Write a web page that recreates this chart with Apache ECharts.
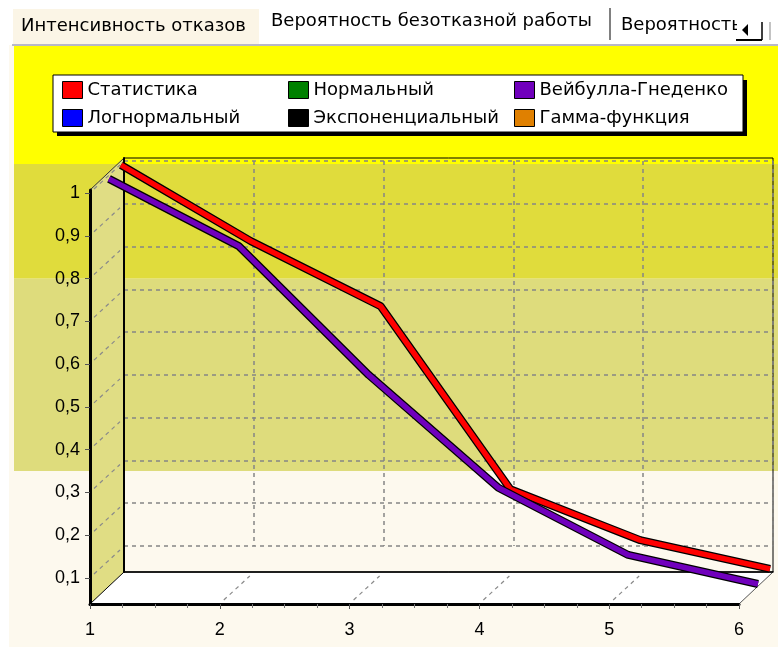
<!DOCTYPE html>
<html>
<head>
<meta charset="utf-8">
<script src="https://cdn.jsdelivr.net/npm/echarts@6/dist/echarts.min.js"></script>
<style>
html, body { margin: 0; padding: 0; background: #ffffff; }
#chart { width: 778px; height: 647px; }
</style>
</head>
<body>
<div id="chart"></div>
<script>
// данные графика
var xValues = [1, 2, 3, 4, 5, 6];
var statValues = [1.0, 0.822, 0.670, 0.242, 0.123, 0.056];
var weibullValues = [0.992, 0.835, 0.534, 0.270, 0.113, 0.045];
var seriesNames = ['Статистика', 'Нормальный', 'Вейбулла-Гнеденко', 'Логнормальный', 'Экспоненциальный', 'Гамма-функция'];
var seriesColors = ['#ff0000', '#008000', '#7000bc', '#0000ff', '#000000', '#e08000'];
var yTicks = [0.1, 0.2, 0.3, 0.4, 0.5, 0.6, 0.7, 0.8, 0.9, 1.0];
var bandEdges = [0.35, 0.8, 1.068];
var bandColors = ['#dedc7c', '#e0dc3c'];
var tabLabels = ['Интенсивность отказов', 'Вероятность безотказной работы', 'Вероятность'];

// геометрия 3D-рамки
var FX = 90, FY = 193, PW = 649, PH = 385, FLOOR = 604;
var DX = 34, DY = -32;
var statDepth = [31, -28], weibullDepth = [19, -17.5];
var FONT = 'DejaVu Sans', NUMFONT = 'Liberation Sans';

function yAt(v) { return FY + (1 - v) / 0.9 * PH; }
function plotGrid(dx, dy) { return { left: FX + dx, top: FY + dy, width: PW, height: PH }; }
function pairs(vals) { return xValues.map(function (x, i) { return [x, vals[i]]; }); }

var chart = echarts.init(document.getElementById('chart'));

var bandTop = yAt(bandEdges[2]), bandBottom = yAt(bandEdges[0]);

var grids = [
    { left: 14, right: 0, top: bandTop, height: bandBottom - bandTop },        // 0 полосы
    plotGrid(DX, DY),                                                          // 1 сетка задней стенки
    { left: FX + DX, top: 158, width: PW, height: FLOOR + DY - 158,            // 2 рамка задней стенки
      show: true, borderColor: '#000', borderWidth: 1, z: 3 },
    plotGrid(statDepth[0], statDepth[1]),                                      // 3 статистика
    plotGrid(weibullDepth[0], weibullDepth[1]),                                // 4 вейбулл
    { left: FX, top: 190, width: PW, height: FLOOR - 190 },                    // 5 передние оси
    plotGrid(0, 0)                                                             // 6 подписи Y
];

var hidden = { show: false };
var dashed = { show: true, lineStyle: { color: '#858585', type: [4, 4], width: 1.5 } };

var xAxes = [
    { gridIndex: 0, type: 'value', min: 0, max: 1, show: false },
    { gridIndex: 1, type: 'value', min: 1, max: 6, interval: 1, axisLine: hidden, axisTick: hidden, axisLabel: hidden, splitLine: dashed, z: 3 },
    { gridIndex: 2, type: 'value', min: 0, max: 1, axisLine: { lineStyle: { color: '#000', width: 1.5 } }, axisTick: hidden, axisLabel: hidden, splitLine: hidden, z: 3 },
    { gridIndex: 3, type: 'value', min: 1, max: 6, show: false },
    { gridIndex: 4, type: 'value', min: 1, max: 6, show: false },
    { gridIndex: 5, type: 'value', min: 1, max: 6, interval: 1, z: 8,
      axisLine: { lineStyle: { color: '#000', width: 3 } },
      axisTick: { length: 5, lineStyle: { color: '#555' } },
      minorTick: { show: true, splitNumber: 4, length: 4, lineStyle: { color: '#777' } },
      axisLabel: { color: '#000', fontSize: 18, fontFamily: NUMFONT, margin: 17 },
      splitLine: hidden },
    { gridIndex: 6, type: 'value', min: 1, max: 6, show: false }
];

var yAxes = [
    { gridIndex: 0, type: 'value', min: bandEdges[0], max: bandEdges[2], show: false },
    { gridIndex: 1, type: 'value', min: 0.1, max: 1, interval: 0.1, axisLine: hidden, axisTick: hidden, axisLabel: hidden, splitLine: dashed, z: 3 },
    { gridIndex: 2, type: 'value', min: 0, max: 1, axisLine: { show: true, lineStyle: { color: '#000', width: 2 } }, axisTick: hidden, axisLabel: hidden, splitLine: hidden, z: 3 },
    { gridIndex: 3, type: 'value', min: 0.1, max: 1, show: false },
    { gridIndex: 4, type: 'value', min: 0.1, max: 1, show: false },
    { gridIndex: 5, type: 'value', min: 0, max: 1, z: 8, axisLine: { show: true, lineStyle: { color: '#000', width: 3 } }, axisTick: hidden, axisLabel: hidden, splitLine: hidden },
    { gridIndex: 6, type: 'value', min: 0.1, max: 1, interval: 0.1, z: 8, axisLine: hidden,
      axisTick: { show: true, length: 5, lineStyle: { color: '#555' } },
      axisLabel: { color: '#000', fontSize: 18, fontFamily: NUMFONT, margin: 10,
        formatter: function (v) { var r = Math.round(v * 10) / 10; return r === 1 ? '1' : r.toFixed(1).replace('.', ','); } },
      splitLine: hidden }
];

var series = [
    { type: 'custom', name: 'bands', xAxisIndex: 0, yAxisIndex: 0, z: 1, silent: true,
      data: [[bandEdges[0], bandEdges[1], 0], [bandEdges[1], bandEdges[2], 1]],
      renderItem: function (params, api) {
          var cs = params.coordSys;
          var yHi = api.coord([0, api.value(1)])[1];
          var yLo = api.coord([0, api.value(0)])[1];
          return { type: 'rect', shape: { x: cs.x, y: yHi, width: cs.width, height: yLo - yHi },
                   style: { fill: bandColors[api.value(2)] } };
      } },
    { type: 'line', name: 'stat-edge', xAxisIndex: 3, yAxisIndex: 3, data: pairs(statValues), showSymbol: false, clip: false, silent: true, z: 4,
      lineStyle: { color: '#000', width: 8 }, color: '#000' },
    { type: 'line', name: seriesNames[0], xAxisIndex: 3, yAxisIndex: 3, data: pairs(statValues), showSymbol: false, clip: false, z: 5,
      lineStyle: { color: seriesColors[0], width: 5.5 }, color: seriesColors[0] },
    { type: 'line', name: 'weib-edge', xAxisIndex: 4, yAxisIndex: 4, data: pairs(weibullValues), showSymbol: false, clip: false, silent: true, z: 6,
      lineStyle: { color: '#000', width: 8 }, color: '#000' },
    { type: 'line', name: seriesNames[2], xAxisIndex: 4, yAxisIndex: 4, data: pairs(weibullValues), showSymbol: false, clip: false, z: 7,
      lineStyle: { color: seriesColors[2], width: 5.5 }, color: seriesColors[2] }
];
[1, 3, 4, 5].forEach(function (i) {
    series.push({ type: 'line', name: seriesNames[i], xAxisIndex: 3, yAxisIndex: 3, data: [], color: seriesColors[i] });
});

function legendCol(left, names) {
    return { left: left, top: 81, orient: 'vertical', data: names, icon: 'rect', itemWidth: 20, itemHeight: 17, itemGap: 10,
             selectedMode: false, z: 10, padding: 0,
             itemStyle: { borderColor: '#000', borderWidth: 1 },
             textStyle: { color: '#000', fontSize: 18, fontFamily: FONT } };
}

// стенки, пол и рамка
var gfx = [
    { type: 'rect', shape: { x: 9, y: 45, width: 769, height: 602 }, style: { fill: '#fdf9ee' }, z: 0 },
    { type: 'rect', shape: { x: 13, y: 9, width: 246, height: 36 }, style: { fill: '#fbf5e6' }, z: 0 },
    { type: 'line', shape: { x1: 12, y1: 45, x2: 778, y2: 45 }, style: { stroke: '#b8b8c8', lineWidth: 2 }, z: 0 },
    { type: 'rect', shape: { x: 14, y: 46, width: 764, height: bandTop - 46 }, style: { fill: '#ffff00' }, z: 0 },
    { type: 'text', x: 21, y: 26, style: { text: tabLabels[0], font: '18px "' + FONT + '"', fill: '#000', verticalAlign: 'middle' }, z: 1 },
    { type: 'text', x: 271, y: 21, style: { text: tabLabels[1], font: '18px "' + FONT + '"', fill: '#000', verticalAlign: 'middle' }, z: 1 },
    { type: 'line', shape: { x1: 610, y1: 8, x2: 610, y2: 40 }, style: { stroke: '#808080', lineWidth: 2 }, z: 1 },
    { type: 'text', x: 621, y: 25, style: { text: tabLabels[2], font: '18px "' + FONT + '"', fill: '#000', verticalAlign: 'middle' }, z: 1 },
    { type: 'rect', shape: { x: 737, y: 18, width: 41, height: 26 }, style: { fill: '#ffffff' }, z: 1 },
    { type: 'polygon', shape: { points: [[742, 30], [748, 24], [748, 36]] }, style: { fill: '#000' }, z: 2 },
    { type: 'line', shape: { x1: 736, y1: 40, x2: 762, y2: 40 }, style: { stroke: '#000', lineWidth: 2 }, z: 2 },
    { type: 'line', shape: { x1: 762, y1: 22, x2: 762, y2: 40 }, style: { stroke: '#000', lineWidth: 1.5 }, z: 2 },
    { type: 'line', shape: { x1: 770, y1: 22, x2: 770, y2: 40 }, style: { stroke: '#888', lineWidth: 1 }, z: 2 },
    { type: 'polygon', shape: { points: [[FX, 190], [FX + DX, 158], [FX + DX, FLOOR + DY], [FX, FLOOR]] }, style: { fill: '#e0dd84' }, z: 2 },
    { type: 'polygon', shape: { points: [[FX, FLOOR], [FX + DX, FLOOR + DY], [FX + DX + PW, FLOOR + DY], [FX + PW, FLOOR]] }, style: { fill: '#ffffff' }, z: 2 },
    { type: 'line', shape: { x1: FX, y1: 190, x2: FX + DX, y2: 158 }, style: { stroke: '#333', lineWidth: 1 }, z: 3 },
    { type: 'line', shape: { x1: FX, y1: FLOOR, x2: FX + DX, y2: FLOOR + DY }, style: { stroke: '#000', lineWidth: 1 }, z: 3 },
    { type: 'line', shape: { x1: FX + PW, y1: FLOOR, x2: FX + PW + DX, y2: FLOOR + DY }, style: { stroke: '#555', lineWidth: 1 }, z: 3 },
    { type: 'rect', shape: { x: 57, y: 80, width: 690, height: 56 }, style: { fill: '#000' }, z: 9 },
    { type: 'rect', shape: { x: 53, y: 75, width: 690, height: 57 }, style: { fill: '#fff', stroke: '#000', lineWidth: 1 }, z: 9 }
];
yTicks.forEach(function (v) {
    var y = yAt(v);
    gfx.push({ type: 'line', shape: { x1: FX + 4, y1: y - 4, x2: FX + DX - 4, y2: y + DY + 4 },
               style: { stroke: '#8a8a8a', lineWidth: 1.2, lineDash: [4, 4] }, z: 3 });
});
xValues.slice(1, -1).forEach(function (x) {
    var px = FX + (x - 1) / 5 * PW;
    gfx.push({ type: 'line', shape: { x1: px + 4, y1: FLOOR - 4, x2: px + DX - 4, y2: FLOOR + DY + 4 },
               style: { stroke: '#8a8a8a', lineWidth: 1.2, lineDash: [4, 4] }, z: 3 });
});

var option = {
    animation: false,
    backgroundColor: '#ffffff',
    grid: grids,
    xAxis: xAxes,
    yAxis: yAxes,
    legend: [
        legendCol(62, [seriesNames[0], seriesNames[3]]),
        legendCol(288, [seriesNames[1], seriesNames[4]]),
        legendCol(514, [seriesNames[2], seriesNames[5]])
    ],
    graphic: { elements: gfx },
    series: series
};
chart.setOption(option);
</script>
</body>
</html>
